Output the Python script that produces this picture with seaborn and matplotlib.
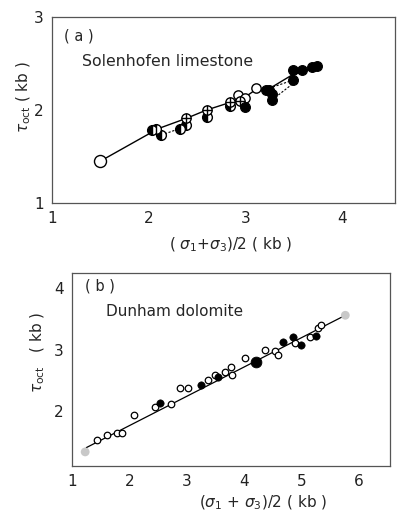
import numpy as np
import pandas as pd
import matplotlib
matplotlib.use("Agg")
import matplotlib.pyplot as plt
import seaborn as sns

# ---------------- data : panel (a) Solenhofen limestone ----------------
a_open_x = [1.50, 2.92, 3.11, 3.00]
a_open_y = [1.45, 2.16, 2.24, 2.13]
a_half_x = [2.04, 2.13, 2.32, 2.39, 2.60, 2.84, 2.08]
a_half_y = [1.79, 1.73, 1.80, 1.84, 1.93, 2.04, 1.80]
a_cross_x = [2.39, 2.60, 2.84, 2.95]
a_cross_y = [1.91, 2.00, 2.09, 2.10]
a_fill_x = [3.00, 3.21, 3.28, 3.28, 3.49, 3.49, 3.59, 3.69, 3.74, 3.25]
a_fill_y = [2.03, 2.22, 2.11, 2.17, 2.32, 2.43, 2.43, 2.46, 2.47, 2.21]
a_line_x = [1.50, 2.10, 2.39, 2.60, 2.84, 3.00, 3.11, 3.25, 3.49, 3.74]
a_line_y = [1.45, 1.80, 1.91, 2.00, 2.08, 2.14, 2.22, 2.23, 2.38, 2.47]
a_dash1_x = [2.13, 2.32, 2.39]
a_dash1_y = [1.73, 1.80, 1.84]
a_dash2_x = [3.28, 3.55]
a_dash2_y = [2.11, 2.33]
a_dash3_x = [3.21, 3.49]
a_dash3_y = [2.22, 2.32]

# ---------------- data : panel (b) Dunham dolomite ----------------
b_open_x = [1.44, 1.61, 1.79, 1.88, 2.09, 2.44, 2.72, 2.88, 3.02, 3.37, 3.49,
            3.67, 3.77, 3.80, 4.02, 4.37, 4.54, 4.60, 4.89, 5.16, 5.30, 5.35]
b_open_y = [1.53, 1.61, 1.64, 1.64, 1.93, 2.07, 2.12, 2.37, 2.37, 2.50, 2.59,
            2.64, 2.72, 2.59, 2.86, 3.00, 2.97, 2.91, 3.10, 3.20, 3.35, 3.40]
b_fill_x = [2.54, 3.25, 3.55, 4.68, 4.86, 5.00, 5.25]
b_fill_y = [2.13, 2.42, 2.55, 3.12, 3.20, 3.07, 3.22]
b_big_x = [4.21]
b_big_y = [2.80]
b_grey_x = [1.23, 5.77]
b_grey_y = [1.33, 3.56]
b_fit_x = [1.25, 5.75]
b_fit_y = [1.40, 3.55]

sns.set_style("white")
plt.rcParams["font.family"] = ["DejaVu Sans"]
plt.rcParams["mathtext.fontset"] = "dejavusans"

fig = plt.figure(figsize=(3.98, 5.19), dpi=100)
ax1 = fig.add_axes([52/398, 1-203/519, (395-52)/398, (203-17)/519])
ax2 = fig.add_axes([72/398, 1-466/519, (390-72)/398, (466-273)/519])

for ax in (ax1, ax2):
    for s in ax.spines.values():
        s.set_linewidth(0.9)
        s.set_color("#555555")
    ax.tick_params(direction="inout", length=5, width=0.9, labelsize=11, colors="#222222")

# ---- panel (a)
sns.lineplot(x=a_line_x, y=a_line_y, ax=ax1, color="black", lw=1.0, estimator=None, sort=False)
for dx, dy in [(a_dash1_x, a_dash1_y), (a_dash2_x, a_dash2_y), (a_dash3_x, a_dash3_y)]:
    sns.lineplot(x=dx, y=dy, ax=ax1, color="black", lw=0.8, ls=(0, (2, 1.5)), estimator=None, sort=False)
sns.scatterplot(x=a_open_x[:1], y=a_open_y[:1], ax=ax1, s=75, facecolor="white", edgecolor="black", linewidth=1.0, zorder=5)
sns.scatterplot(x=a_open_x[1:], y=a_open_y[1:], ax=ax1, s=45, facecolor="white", edgecolor="black", linewidth=1.0, zorder=5)
ax1.plot(a_half_x, a_half_y, ls="", marker="o", ms=7, fillstyle="left",
         markerfacecolor="black", markerfacecoloralt="white", markeredgecolor="black", mew=1.0, zorder=6)
sns.scatterplot(x=a_cross_x, y=a_cross_y, ax=ax1, s=45, facecolor="white", edgecolor="black", linewidth=1.0, zorder=6)
sns.scatterplot(x=a_cross_x, y=a_cross_y, ax=ax1, s=45, marker="+", color="black", linewidth=1.0, zorder=7)
sns.scatterplot(x=a_fill_x, y=a_fill_y, ax=ax1, s=50, color="black", edgecolor="black", linewidth=0.8, zorder=6)

ax1.set_xlim(1, 4.55)
ax1.set_ylim(1, 3)
ax1.set_xticks([1, 2, 3, 4])
ax1.set_yticks([1, 2, 3])
ax1.set_xticklabels(["1", "2", "3", "4"])
ax1.set_yticklabels(["1", "2", "3"])
ax1.text(1.12, 2.80, "( a )", fontsize=10.5, va="center", ha="left")
ax1.text(1.31, 2.52, "Solenhofen limestone", fontsize=11.3, va="center", ha="left")
ax1.set_xlabel(r"( $\sigma_1$+$\sigma_3$)/2 ( kb )", fontsize=11)
ax1.set_ylabel(r"$\tau_{\rm oct}$ ( kb )", fontsize=11)
ax1.xaxis.set_label_coords(0.52, -0.175)
ax1.yaxis.set_label_coords(-0.055, 0.57)

# ---- panel (b)
sns.lineplot(x=b_fit_x, y=b_fit_y, ax=ax2, color="black", lw=0.9, estimator=None, sort=False)
sns.scatterplot(x=b_open_x, y=b_open_y, ax=ax2, s=22, facecolor="white", edgecolor="black", linewidth=0.9, zorder=5)
sns.scatterplot(x=b_fill_x, y=b_fill_y, ax=ax2, s=28, color="black", edgecolor="black", zorder=6)
sns.scatterplot(x=b_big_x, y=b_big_y, ax=ax2, s=60, color="black", edgecolor="black", zorder=6)
sns.scatterplot(x=b_grey_x, y=b_grey_y, ax=ax2, s=40, color="#c8c8c8", edgecolor="none", zorder=4)

ax2.set_xlim(1, 6.55)
ax2.set_ylim(1.1, 4.25)
ax2.set_xticks([1, 2, 3, 4, 5, 6])
ax2.set_yticks([2, 3, 4])
ax2.set_xticklabels(["1", "2", "3", "4", "5", "6"])
ax2.set_yticklabels(["2", "3", "4"])
ax2.text(1.23, 4.03, "( b )", fontsize=10.5, va="center", ha="left")
ax2.text(1.6, 3.62, "Dunham dolomite", fontsize=11, va="center", ha="left")
ax2.set_xlabel(r"($\sigma_1$ + $\sigma_3$)/2 ( kb )", fontsize=11)
ax2.set_ylabel(r"$\tau_{\rm oct}$   ( kb )", fontsize=11)
ax2.xaxis.set_label_coords(0.6, -0.145)
ax2.yaxis.set_label_coords(-0.08, 0.59)

fig.savefig("out.png", dpi=100, facecolor="white")
